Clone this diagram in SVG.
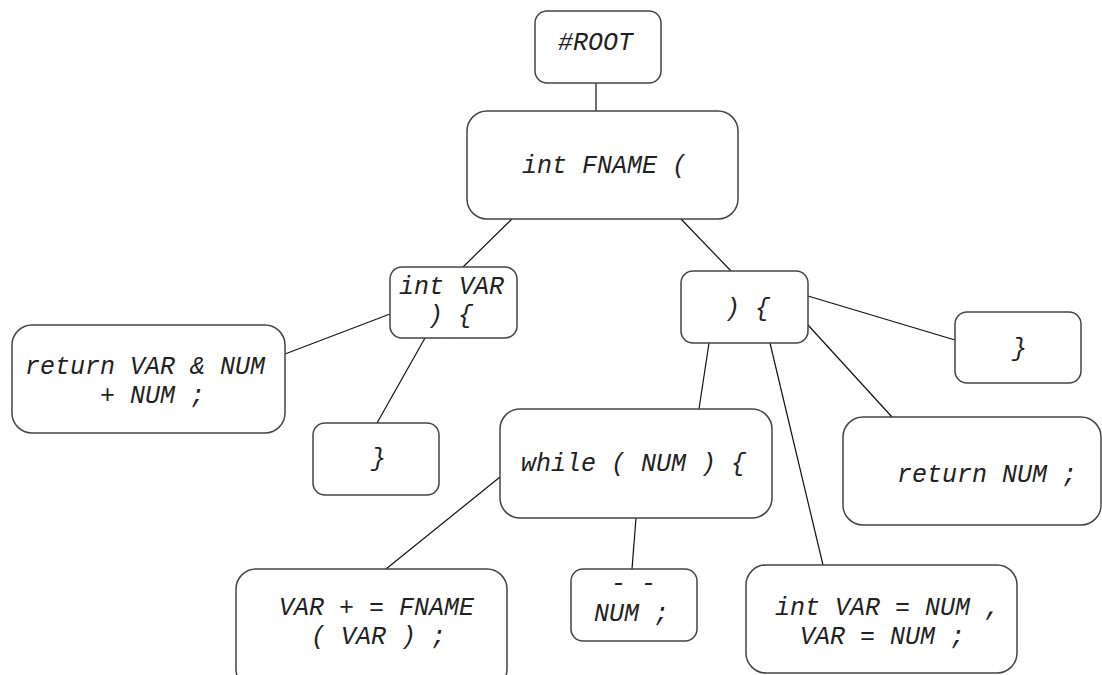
<svg xmlns="http://www.w3.org/2000/svg" width="1102" height="675" viewBox="0 0 1102 675">
<style>
.box{fill:#fff;stroke:#444;stroke-width:1.5}
.t{font-family:"Liberation Mono","Courier New",monospace;font-style:italic;font-size:25px;fill:#222;white-space:pre}
.e{stroke:#111;stroke-width:1.2;fill:none}
</style>
<rect width="1102" height="675" fill="#fff"/>
<g id="edges">
<line class="e" x1="596" y1="83" x2="596" y2="111"/>
<line class="e" x1="512" y1="219" x2="463" y2="267"/>
<line class="e" x1="681" y1="219" x2="731" y2="271"/>
<line class="e" x1="390" y1="314" x2="285" y2="354"/>
<line class="e" x1="425" y1="338" x2="377" y2="423"/>
<line class="e" x1="808" y1="296" x2="955" y2="340"/>
<line class="e" x1="808" y1="325" x2="892" y2="417"/>
<line class="e" x1="709" y1="343" x2="699" y2="409"/>
<line class="e" x1="770" y1="343" x2="823" y2="565"/>
<line class="e" x1="500" y1="477" x2="386" y2="569"/>
<line class="e" x1="636" y1="518" x2="632" y2="569"/>
</g>
<g id="n_root"><rect class="box" x="535" y="11" width="126" height="72" rx="12"/><text class="t" x="558" y="50">#ROOT</text></g>
<g id="n_fname"><rect class="box" x="467" y="111" width="271" height="108" rx="20"/><text class="t" x="522" y="173">int FNAME (</text></g>
<g id="n_intvar"><rect class="box" x="390" y="267" width="127" height="71" rx="12"/><text class="t" x="399" y="294">int VAR</text><text class="t" x="428" y="323">) {</text></g>
<g id="n_paren"><rect class="box" x="681" y="271" width="127" height="72" rx="12"/><text class="t" x="725" y="316">) {</text></g>
<g id="n_ret1"><rect class="box" x="12" y="325" width="273" height="108" rx="20"/><text class="t" x="25" y="374">return VAR &amp; NUM</text><text class="t" x="100" y="403">+ NUM ;</text></g>
<g id="n_close1"><rect class="box" x="313" y="423" width="126" height="72" rx="12"/><text class="t" x="371" y="466">}</text></g>
<g id="n_close2"><rect class="box" x="955" y="312" width="126" height="71" rx="12"/><text class="t" x="1012" y="356">}</text></g>
<g id="n_while"><rect class="box" x="500" y="409" width="272" height="109" rx="20"/><text class="t" x="521" y="471">while ( NUM ) {</text></g>
<g id="n_ret2"><rect class="box" x="843" y="417" width="258" height="108" rx="20"/><text class="t" x="897" y="482">return NUM ;</text></g>
<g id="n_assign"><rect class="box" x="236" y="569" width="271" height="120" rx="20"/><text class="t" x="279" y="615">VAR + = FNAME</text><text class="t" x="311" y="644">( VAR ) ;</text></g>
<g id="n_dec"><rect class="box" x="571" y="569" width="126" height="72" rx="12"/><text class="t" x="611" y="591">- -</text><text class="t" x="594" y="621">NUM ;</text></g>
<g id="n_decl"><rect class="box" x="746" y="565" width="271" height="108" rx="20"/><text class="t" x="775" y="615">int VAR = NUM ,</text><text class="t" x="800" y="644">VAR = NUM ;</text></g>
</svg>
